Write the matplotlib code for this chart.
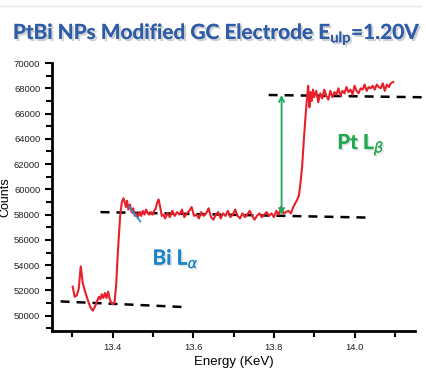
import matplotlib
matplotlib.use("Agg")
import matplotlib.pyplot as plt
import matplotlib.patheffects as pe
from matplotlib.ticker import MultipleLocator, FixedLocator

# spectrum (energy in keV, counts)
energy = [
    13.301, 13.306, 13.311, 13.316, 13.321, 13.326, 13.331, 13.336, 13.341, 13.346,
    13.351, 13.356, 13.361, 13.366, 13.370, 13.373, 13.377, 13.381, 13.385, 13.389,
    13.393, 13.397, 13.401, 13.405, 13.409, 13.413, 13.416, 13.419, 13.423, 13.427,
    13.430, 13.433, 13.436, 13.439, 13.443, 13.447, 13.451, 13.455, 13.459, 13.463,
    13.467, 13.471, 13.475, 13.479, 13.483, 13.487, 13.491, 13.495, 13.499, 13.503,
    13.507, 13.511, 13.514, 13.518, 13.522, 13.526, 13.530, 13.536, 13.542, 13.548,
    13.554, 13.560, 13.566, 13.572, 13.578, 13.584, 13.590, 13.596, 13.602, 13.608,
    13.614, 13.620, 13.626, 13.632, 13.638, 13.644, 13.650, 13.656, 13.662, 13.668,
    13.674, 13.680, 13.686, 13.692, 13.698, 13.704, 13.710, 13.716, 13.722, 13.728,
    13.734, 13.740, 13.746, 13.752, 13.758, 13.764, 13.770, 13.776, 13.782, 13.788,
    13.794, 13.800, 13.806, 13.812, 13.818, 13.824, 13.830, 13.836, 13.842, 13.848,
    13.853, 13.858, 13.862, 13.866, 13.870, 13.874, 13.878, 13.882, 13.885, 13.888,
    13.891, 13.894, 13.897, 13.900, 13.905, 13.910, 13.915, 13.920, 13.925, 13.930,
    13.935, 13.940, 13.945, 13.950, 13.955, 13.960, 13.965, 13.970, 13.975, 13.980,
    13.985, 13.990, 13.995, 14.000, 14.005, 14.010, 14.015, 14.020, 14.025, 14.030,
    14.035, 14.040, 14.045, 14.050, 14.055, 14.060, 14.065, 14.070, 14.075, 14.080,
    14.085, 14.090, 14.096,
]
counts = [
    52300, 51500, 51600, 52100, 53900, 52600, 52000, 51500, 51000, 50600,
    50400, 50700, 51100, 51500, 51300, 51700, 51400, 51800, 51400, 51900,
    51300, 51000, 50900, 51100, 52500, 55000, 56500, 58000, 59000, 59300,
    59000, 58600, 59100, 58400, 58800, 58200, 58500, 57900, 58100, 57800,
    58200, 57900, 58300, 58000, 58400, 58100, 58000, 58200, 58000, 58300,
    58500, 59000, 59200, 58600, 57900, 58000, 57700, 58100, 57800, 58300,
    57900, 58200, 58000, 58400, 57800, 58100, 58300, 58600, 57900, 58000,
    57700, 58200, 57900, 58100, 58500, 57800, 57600, 58000, 58200, 57700,
    58100, 57900, 58300, 57800, 58000, 58400, 57900, 57700, 58100, 57800,
    58000, 58300, 57900, 57600, 57900, 58100, 57800, 58000, 58200, 57900,
    58100, 57800, 58300, 58000, 58600, 58100, 58200, 58300, 58100, 58600,
    58900, 59200, 59500, 60500, 61800, 63800, 65600, 67200, 68200, 66500,
    67700, 67000, 67900, 67300, 67800, 66900, 67600, 67200, 67900, 67400,
    67100, 67800, 67300, 67700, 67500, 68000, 67400, 67800, 67600, 68100,
    67700, 67900, 67500, 68200, 67800, 67600, 68000, 67900, 68300, 67800,
    68100, 68000, 68200, 67900, 68300, 68100, 68000, 68400, 67800, 68300,
    68100, 68400, 68500,
]

# guide lines (x0, x1, y0, y1)
bi_pre = ([13.271, 13.573], [51130, 50690])
bi_post = ([13.370, 14.027], [58200, 57770])
pt_post = ([13.787, 14.168], [67470, 67290])
tangent = ([13.440, 13.469], [58640, 57450])
step_x = 13.819
step_y = (57980, 67470)

fig = plt.figure(figsize=(4.27, 3.73), dpi=100)
ax = fig.add_axes([0.122, 0.113, 0.850, 0.718])

dash = (0, (3.6, 2.8))
for xs, ys in (bi_pre, bi_post, pt_post):
    ax.plot(xs, ys, color="black", lw=1.8, linestyle=dash, clip_on=False, zorder=2)

ax.plot(energy, counts, color="#e8202a", lw=1.5, zorder=3)
ax.plot(tangent[0], tangent[1], color="#2a8fd4", lw=1.2, zorder=4)

ax.annotate("", xy=(step_x, step_y[1]), xytext=(step_x, step_y[0]),
            arrowprops=dict(arrowstyle="<->", color="#1aab5a", lw=1.3,
                            shrinkA=0, shrinkB=0, mutation_scale=9))

shadow = [pe.withSimplePatchShadow(offset=(1.2, -1.2), shadow_rgbFace="#888888", alpha=0.25), pe.Normal()]
ax.text(13.499, 54030, r"Bi L$_{\alpha}$", color="#1a86c8", fontsize=15,
        fontweight="bold", family="Lato", ha="left", va="baseline", path_effects=shadow)
ax.text(13.957, 63180, r"Pt L$_{\beta}$", color="#21a84e", fontsize=15,
        fontweight="bold", family="Lato", ha="left", va="baseline", path_effects=shadow)

ax.set_xlim(13.25, 14.15)
ax.set_ylim(48800, 70000)
ax.xaxis.set_major_locator(FixedLocator([13.4, 13.6, 13.8, 14.0]))
ax.xaxis.set_minor_locator(FixedLocator([13.3, 13.5, 13.7, 13.9, 14.1]))
ax.yaxis.set_major_locator(MultipleLocator(2000))
ax.yaxis.set_minor_locator(MultipleLocator(1000))
ax.set_xticklabels(["13.4", "13.6", "13.8", "14.0"])

for s in ("top", "right"):
    ax.spines[s].set_visible(False)
for s in ("left", "bottom"):
    ax.spines[s].set_linewidth(2)
ax.tick_params(which="major", length=5, width=1.5, labelsize=6.8)
ax.tick_params(which="minor", length=4, width=1.5)
for lab in ax.get_xticklabels() + ax.get_yticklabels():
    lab.set_family("Liberation Sans")
    lab.set_color("#222222")

ax.set_xlabel("Energy (KeV)", fontsize=9.5, family="Liberation Sans", labelpad=3)
ax.set_ylabel("Counts", fontsize=9, family="Liberation Sans", labelpad=2)

fig.add_artist(plt.Line2D([0.0, 0.985], [0.985, 0.985], color="#e6e6e6", lw=1))
fig.text(0.509, 0.908, r"PtBi NPs Modified GC Electrode E$_{\mathregular{ulp}}$=1.20V",
         color="#2f5da9", fontsize=15, fontweight="bold", family="Lato",
         ha="center", va="center",
         path_effects=[pe.withSimplePatchShadow(offset=(1.5, -1.5), shadow_rgbFace="#777777", alpha=0.35), pe.Normal()])

fig.savefig("out.png", dpi=100, facecolor="white")
